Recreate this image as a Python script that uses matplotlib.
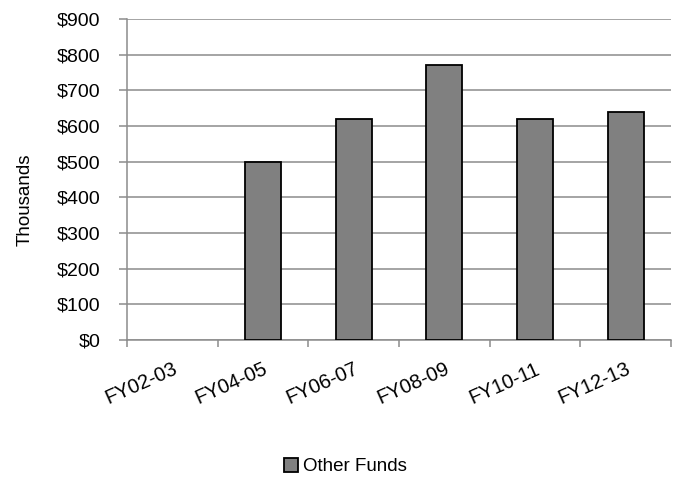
import matplotlib
matplotlib.use("Agg")
import matplotlib.pyplot as plt
import numpy as np

plt.rcParams['font.family'] = ['Liberation Sans Narrow', 'Liberation Sans', 'DejaVu Sans']

years = ["FY02-03", "FY04-05", "FY06-07", "FY08-09", "FY10-11", "FY12-13"]
other_funds = [0, 500, 620, 770, 620, 640]
yticks = [0, 100, 200, 300, 400, 500, 600, 700, 800, 900]

grey = "#8c8c8c"

fig = plt.figure(figsize=(6.78, 4.78), dpi=100)
ax = fig.add_axes([0.1873, 0.2887, 0.8024, 0.6716])

x = np.arange(len(years))
# empty years get no outline, as in the original
edges = ["none" if v == 0 else "black" for v in other_funds]
ax.bar(x, other_funds, width=0.4, color="#808080", edgecolor=edges,
       linewidth=1.3, label="Other Funds", zorder=3)

ax.set_xlim(-0.5, len(years) - 0.5)
ax.set_ylim(0, 900)
ax.set_yticks(yticks)
ax.set_yticklabels(["$%d" % v for v in yticks], fontsize=14)
ax.yaxis.grid(True, color=grey, linewidth=1.1, zorder=0)

# category ticks sit on the boundaries, labels on the centres
ax.set_xticks(np.arange(len(years) + 1) - 0.5)
ax.set_xticklabels([])
ax.set_xticks(x, minor=True)
ax.set_xticklabels(years, minor=True, rotation=24, ha="right",
                   rotation_mode="anchor", fontsize=14.5)
ax.tick_params(axis="x", which="minor", length=0, pad=14)
ax.tick_params(axis="x", which="major", length=5, color=grey, width=1.1)
ax.tick_params(axis="y", length=6, color=grey, width=1.1, pad=13)

for side in ["top", "right"]:
    ax.spines[side].set_visible(False)
for side in ["left", "bottom"]:
    ax.spines[side].set_color(grey)
    ax.spines[side].set_linewidth(1.1)

fig.text(25 / 678, 1 - 200 / 478, "Thousands", rotation=90,
         ha="center", va="center", fontsize=13.5)

leg = fig.legend(loc="center", bbox_to_anchor=(0.51, 0.024), frameon=False,
                 fontsize=13.5, handlelength=0.75, handleheight=0.75,
                 handletextpad=0.27, borderpad=0)
leg.legend_handles[0].set_edgecolor("black")

fig.savefig("out.png", dpi=100)
plt.close(fig)
